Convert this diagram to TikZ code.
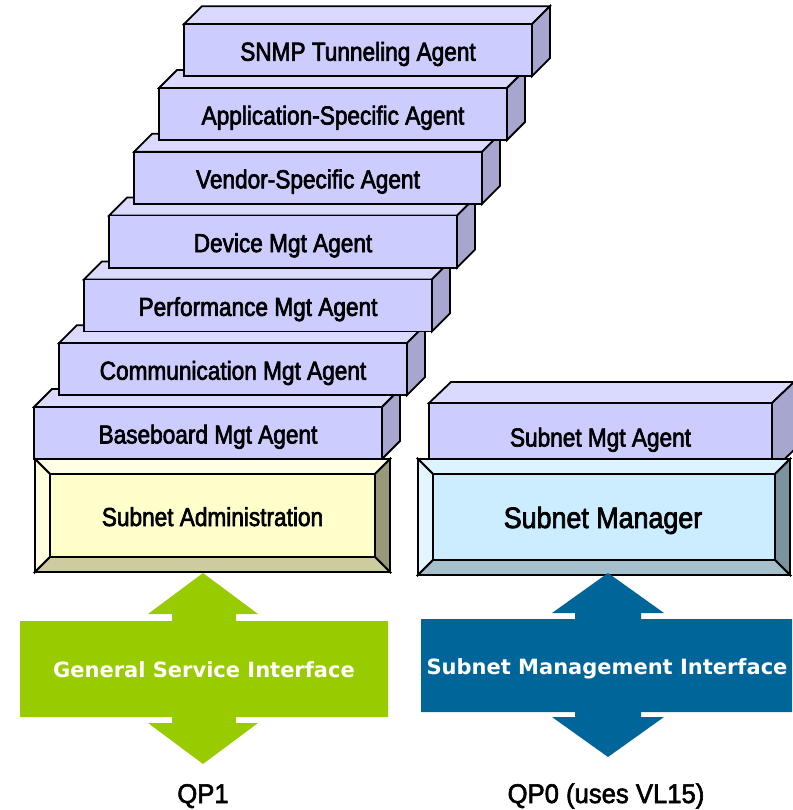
\documentclass[tikz,border=0pt]{standalone}
\usepackage{fontspec}
\setmainfont{Liberation Sans}
\newfontfamily\agentfont[FakeStretch=0.87,FakeBold=2.5]{Liberation Sans}
\newfontfamily\smfont[FakeStretch=0.91,FakeBold=2.5]{Liberation Sans}
\newfontfamily\qpfont[FakeStretch=0.95,FakeBold=2.2]{Liberation Sans}
\newfontfamily\iffont{DejaVu Sans}
\definecolor{agfront}{HTML}{CCCCFF}
\definecolor{agtop}{HTML}{DADAFF}
\definecolor{agside}{HTML}{A6A6CF}
\definecolor{satop}{HTML}{FFFFE6}
\definecolor{saleft}{HTML}{FFFFE0}
\definecolor{sain}{HTML}{FFFFCC}
\definecolor{saright}{HTML}{99997A}
\definecolor{sabot}{HTML}{CCCC9E}
\definecolor{smtop}{HTML}{DDF3FF}
\definecolor{smleft}{HTML}{E3F5FF}
\definecolor{smin}{HTML}{CCECFF}
\definecolor{smright}{HTML}{7A939E}
\definecolor{smbot}{HTML}{A5BFCC}
\definecolor{gsigreen}{HTML}{99CC00}
\definecolor{smiblue}{HTML}{006699}
\tikzset{
  edge3d/.style={draw=black, line width=1.8pt, line join=miter},
  agenttext/.style={font=\agentfont\fontsize{26}{30}\selectfont, anchor=base, inner sep=0pt},
  boxtext/.style={font=\agentfont\fontsize{26}{30}\selectfont, anchor=base, inner sep=0pt},
  mgrtext/.style={font=\smfont\fontsize{29.5}{34}\selectfont, anchor=base, inner sep=0pt},
  iftext/.style={font=\iffont\bfseries\fontsize{21}{25}\selectfont, text=white, anchor=base, inner sep=0pt},
  qptext/.style={font=\qpfont\fontsize{27}{31}\selectfont, anchor=base, inner sep=0pt}
}
% agent box: #1 name, #2 x, #3 y (top of front face), #4 width, #5 text
\newcommand\agentbox[5]{%
  \filldraw[edge3d, fill=agtop] (#2,#3) -- ++(18,-18) -- ++(#4,0) -- ++(-18,18) -- cycle;
  \filldraw[edge3d, fill=agside] ({#2+#4},#3) -- ++(18,-18) -- ++(0,52) -- ++(-18,18) -- cycle;
  \filldraw[edge3d, fill=agfront] (#2,#3) rectangle ++(#4,52);
  \node[agenttext] (#1) at ({#2+#4/2},{#3+36.5}) {#5};
}
% bevel box: #1 x1, #2 y1, #3 x2, #4 y2, #5 top, #6 left, #7 inner, #8 right, #9 bottom
\newcommand\bevelbox[9]{%
  \filldraw[edge3d, fill=#5] (#1,#2) -- (#3,#2) -- ({#3-15},{#2+15}) -- ({#1+15},{#2+15}) -- cycle;
  \filldraw[edge3d, fill=#6] (#1,#2) -- ({#1+15},{#2+15}) -- ({#1+15},{#4-15}) -- (#1,#4) -- cycle;
  \filldraw[edge3d, fill=#8] (#3,#2) -- (#3,#4) -- ({#3-15},{#4-15}) -- ({#3-15},{#2+15}) -- cycle;
  \filldraw[edge3d, fill=#9] (#1,#4) -- (#3,#4) -- ({#3-15},{#4-15}) -- ({#1+15},{#4-15}) -- cycle;
  \filldraw[edge3d, fill=#7] ({#1+15},{#2+15}) rectangle ({#3-15},{#4-15});
  \draw[edge3d] (#1,#2) rectangle (#3,#4);
}
\begin{document}
\begin{tikzpicture}[x=1pt, y=-1pt]
\useasboundingbox (0,0) rectangle (792,810);
% left stack (bottom first, upper boxes in front)
\agentbox{bma}{34}{407}{348}{Baseboard Mgt Agent}
\agentbox{cma}{59}{343.2}{348}{Communication Mgt Agent}
\agentbox{pma}{84}{279.4}{348}{Performance Mgt Agent}
\agentbox{dma}{109}{215.6}{348}{Device Mgt Agent}
\agentbox{vsa}{134}{151.8}{348}{Vendor-Specific Agent}
\agentbox{asa}{159}{88}{348}{Application-Specific Agent}
\agentbox{snmp}{184}{24.2}{348}{SNMP Tunneling Agent}
% subnet administration
\bevelbox{35}{459}{390}{572}{satop}{saleft}{sain}{saright}{sabot}
\node[boxtext] (sa) at (212.5,526) {Subnet Administration};
% subnet mgt agent
\filldraw[edge3d, fill=agtop] (429,403) -- (451,382) -- (794,382) -- (772,403) -- cycle;
\filldraw[edge3d, fill=agside] (772,403) -- (794,382) -- (794,450) -- (772,471) -- cycle;
\filldraw[edge3d, fill=agfront] (429,403) rectangle (772,471);
\node[agenttext] (sma) at (600.5,446.5) {Subnet Mgt Agent};
% subnet manager
\bevelbox{418}{459}{790}{575}{smtop}{smleft}{smin}{smright}{smbot}
\node[mgrtext] (sm) at (603,528) {Subnet Manager};
% general service interface arrow
\fill[gsigreen] (20,621) -- (172,621) -- (172,614) -- (148,614) -- (203,573) -- (258,614) -- (236,614) -- (236,621) -- (388,621) -- (388,717) -- (236,717) -- (236,723) -- (258,723) -- (203,764) -- (148,723) -- (172,723) -- (172,717) -- (20,717) -- cycle;
\node[iftext] (gsi) at (204,677) {General Service Interface};
% subnet management interface arrow
\fill[smiblue] (421,619) -- (575,619) -- (575,613) -- (552,613) -- (608,573) -- (664,613) -- (641,613) -- (641,619) -- (792,619) -- (792,712) -- (641,712) -- (641,717) -- (664,717) -- (608,757) -- (552,717) -- (575,717) -- (575,712) -- (421,712) -- cycle;
\node[iftext] (smi) at (607,674) {Subnet Management Interface};
% queue pairs
\node[qptext] (qp1) at (203,803) {QP1};
\node[qptext] (qp0) at (606,803) {QP0 (uses VL15)};
\end{tikzpicture}
\end{document}
